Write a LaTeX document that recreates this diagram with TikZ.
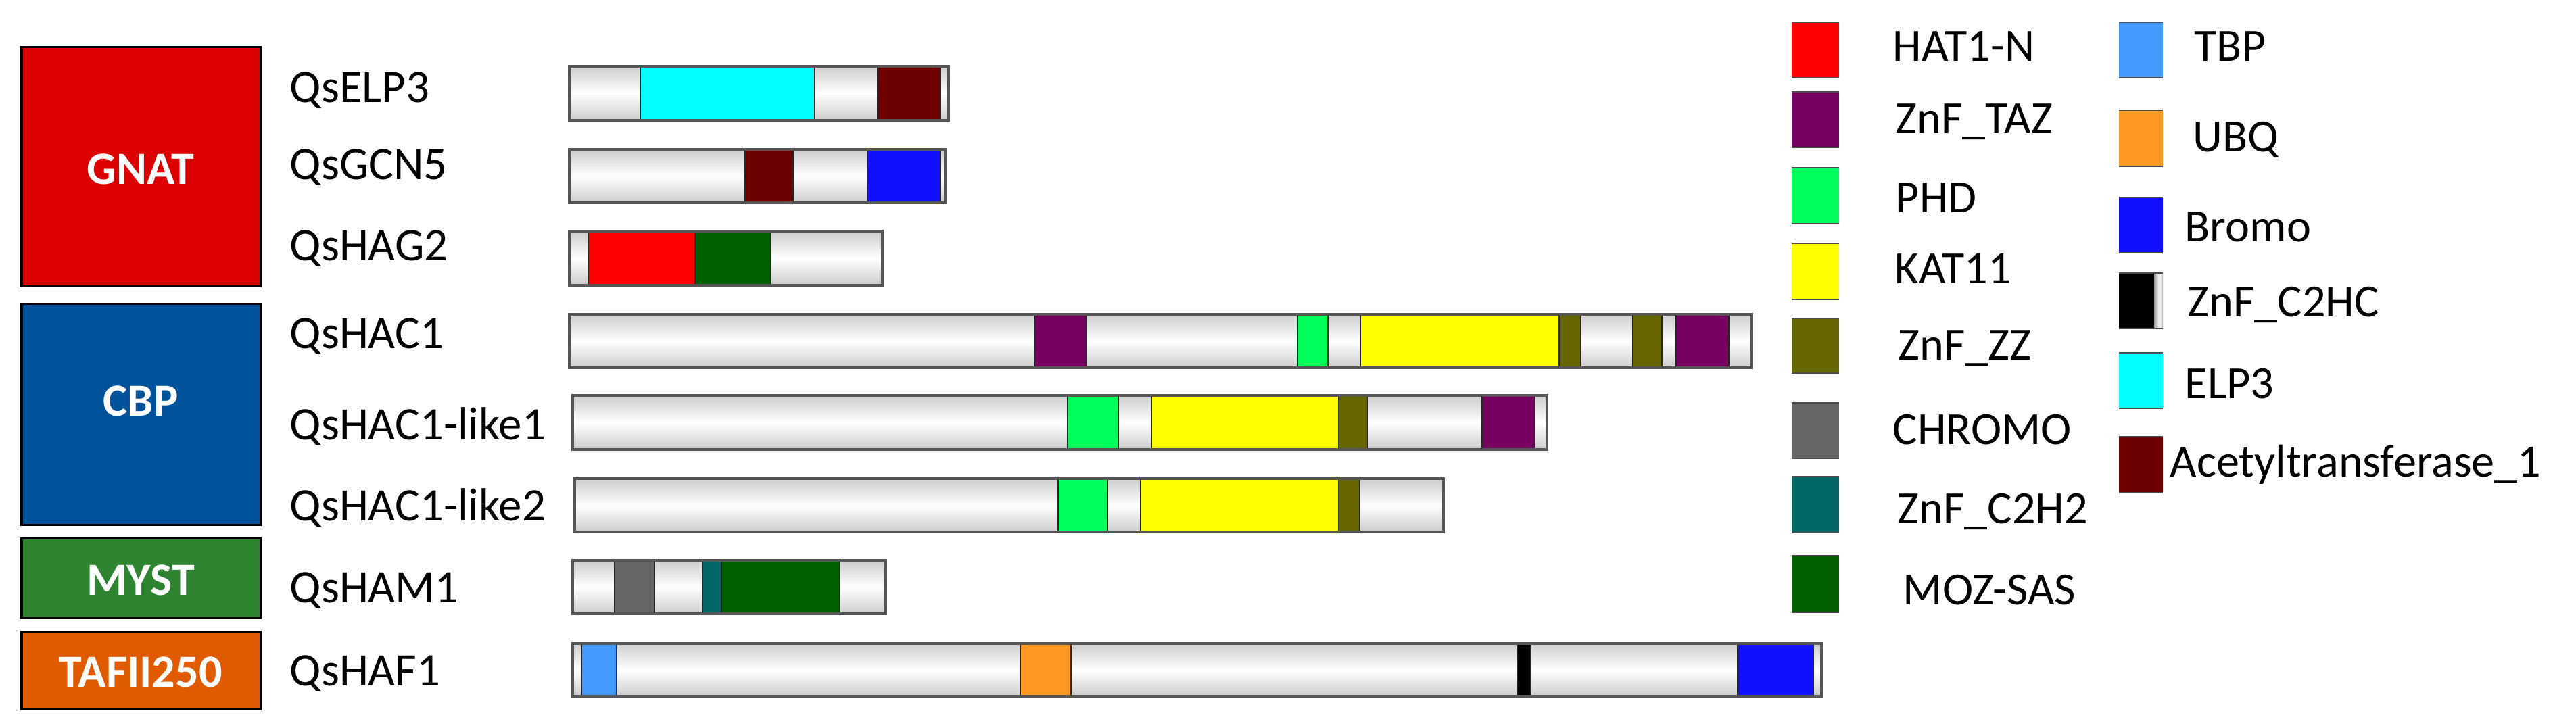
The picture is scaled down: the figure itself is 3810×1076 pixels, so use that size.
\documentclass[tikz,border=0pt]{standalone}
\usepackage{fontspec}
\setmainfont{Carlito}
\definecolor{cGNAT}{RGB}{221,0,0}
\definecolor{cCBP}{RGB}{0,82,155}
\definecolor{cMYST}{RGB}{46,131,48}
\definecolor{cTAF}{RGB}{224,90,0}
\definecolor{dHAT}{RGB}{255,0,0}
\definecolor{dTAZ}{RGB}{118,0,96}
\definecolor{dPHD}{RGB}{0,255,90}
\definecolor{dKAT}{RGB}{255,255,0}
\definecolor{dZZ}{RGB}{102,102,0}
\definecolor{dCHR}{RGB}{102,102,102}
\definecolor{dCtwoHtwo}{RGB}{0,102,102}
\definecolor{dMOZ}{RGB}{0,96,0}
\definecolor{dTBP}{RGB}{68,153,255}
\definecolor{dUBQ}{RGB}{255,153,34}
\definecolor{dBRO}{RGB}{16,16,255}
\definecolor{dCtwoHC}{RGB}{0,0,0}
\definecolor{dELP}{RGB}{0,255,255}
\definecolor{dACT}{RGB}{112,0,0}
\definecolor{barg}{RGB}{205,205,205}
\definecolor{barline}{RGB}{85,85,85}
\newcommand\protshade[4]{\shade[top color=barg,bottom color=barg,middle color=white] (#1,#2) rectangle (#3,#4);}
\newcommand\protframe[4]{\draw[barframe] (#1,#2) rectangle (#3,#4);}
\newcommand\protdom[5]{\filldraw[dom, fill=#5] (#1,#2) rectangle (#3,#4);}
\newcommand\legsq[5]{\fill[#5] (#1,#2) rectangle (#3,#4);
  \draw[legline] (#1,#2) -- (#3,#2); \draw[legline] (#1,#4) -- (#3,#4);}
\begin{document}
\begin{tikzpicture}[x=0.01cm,y=-0.01cm,
  grp/.style={draw=black, line width=0.03cm},
  grplabel/.style={text=white, font=\fontsize{19.4}{23}\selectfont\bfseries, inner sep=0, anchor=base},
  plabel/.style={font=\fontsize{19.6}{23}\selectfont, inner sep=0, anchor=base west},
  llabel/.style={font=\fontsize{19.4}{23}\selectfont, inner sep=0, anchor=base west},
  barframe/.style={draw=barline, line width=0.032cm},
  dom/.style={draw=black!85, line width=0.02cm},
  legline/.style={draw=black!70, line width=0.025cm},
  ]
\useasboundingbox[fill=white] (0,0) rectangle (3810,1076);

% group boxes
\draw[grp, fill=cGNAT] (32,70) rectangle (385,423);
\draw[grp, fill=cCBP] (32,449) rectangle (385,776);
\draw[grp, fill=cMYST] (32,796) rectangle (385,914);
\draw[grp, fill=cTAF] (32,934) rectangle (385,1049);
\node[grplabel] (gnat) at (208,272) {GNAT};
\node[grplabel] (cbp) at (208,615) {CBP};
\node[grplabel] (myst) at (208,880) {MYST};
\node[grplabel] (taf) at (208,1016) {TAFII250};

% protein labels
\node[plabel] (lelp) at (428,152) {QsELP3};
\node[plabel] (lgcn) at (428,265) {QsGCN5};
\node[plabel] (lhag) at (428,385) {QsHAG2};
\node[plabel] (lhac) at (428,515) {QsHAC1};
\node[plabel] (lhlo) at (428,650) {QsHAC1-like1};
\node[plabel] (lhlt) at (428,770) {QsHAC1-like2};
\node[plabel] (lham) at (428,891) {QsHAM1};
\node[plabel] (lhaf) at (428,1014) {QsHAF1};

% QsELP3
\protshade{842}{98}{1403}{178}
\protdom{947}{98}{1205}{178}{dELP}
\protdom{1298}{98}{1391}{178}{dACT}
\protframe{842}{98}{1403}{178}
% QsGCN5
\protshade{842}{221}{1398}{300}
\protdom{1102}{221}{1173}{300}{dACT}
\protdom{1283}{221}{1391}{300}{dBRO}
\protframe{842}{221}{1398}{300}
% QsHAG2
\protshade{842}{342}{1305}{422}
\protdom{870}{342}{1028}{422}{dHAT}
\protdom{1028}{342}{1140}{422}{dMOZ}
\protframe{842}{342}{1305}{422}
% QsHAC1
\protshade{842}{465}{2591}{544}
\protdom{1530}{465}{1607}{544}{dTAZ}
\protdom{1919}{465}{1964}{544}{dPHD}
\protdom{2012}{465}{2306}{544}{dKAT}
\protdom{2306}{465}{2338}{544}{dZZ}
\protdom{2415}{465}{2458}{544}{dZZ}
\protdom{2479}{465}{2557}{544}{dTAZ}
\protframe{842}{465}{2591}{544}
% QsHAC1-like1
\protshade{847}{585}{2288}{665}
\protdom{1579}{585}{1654}{665}{dPHD}
\protdom{1703}{585}{1980}{665}{dKAT}
\protdom{1980}{585}{2023}{665}{dZZ}
\protdom{2192}{585}{2270}{665}{dTAZ}
\protframe{847}{585}{2288}{665}
% QsHAC1-like2
\protshade{850}{708}{2135}{787}
\protdom{1565}{708}{1638}{787}{dPHD}
\protdom{1687}{708}{1980}{787}{dKAT}
\protdom{1980}{708}{2011}{787}{dZZ}
\protframe{850}{708}{2135}{787}
% QsHAM1
\protshade{847}{829}{1310}{908}
\protdom{909}{829}{968}{908}{dCHR}
\protdom{1039}{829}{1067}{908}{dCtwoHtwo}
\protdom{1067}{829}{1242}{908}{dMOZ}
\protframe{847}{829}{1310}{908}
% QsHAF1
\protshade{847}{952}{2694}{1030}
\protdom{860}{952}{912}{1030}{dTBP}
\protdom{1509}{952}{1584}{1030}{dUBQ}
\protdom{2244}{952}{2264}{1030}{dCtwoHC}
\protdom{2570}{952}{2682}{1030}{dBRO}
\protframe{847}{952}{2694}{1030}

% legend column 1
\legsq{2650}{33}{2720}{115}{dHAT}
\legsq{2650}{136}{2720}{218}{dTAZ}
\legsq{2650}{248}{2720}{331}{dPHD}
\legsq{2650}{360}{2720}{443}{dKAT}
\legsq{2650}{471}{2720}{552}{dZZ}
\legsq{2650}{596}{2720}{678}{dCHR}
\legsq{2650}{705}{2720}{788}{dCtwoHtwo}
\legsq{2650}{822}{2720}{906}{dMOZ}
\node[llabel] (that) at (2799,91) {HAT1-N};
\node[llabel] (ttaz) at (2803,198) {ZnF\_TAZ};
\node[llabel] (tphd) at (2803,314) {PHD};
\node[llabel] (tkat) at (2802,419) {KAT11};
\node[llabel] (tzz) at (2807,532) {ZnF\_ZZ};
\node[llabel] (tchr) at (2799,657) {CHROMO};
\node[llabel] (tcth) at (2806,774) {ZnF\_C2H2};
\node[llabel] (tmoz) at (2814,894) {MOZ-SAS};

% legend column 2
\legsq{3134}{33}{3199}{115}{dTBP}
\legsq{3134}{163}{3199}{246}{dUBQ}
\legsq{3134}{292}{3199}{374}{dBRO}
\fill[black] (3134,404) rectangle (3186,486);
\shade[left color=black!40, right color=white] (3186,404) rectangle (3194,486);
\shade[left color=white, right color=black!30] (3194,404) rectangle (3199,486);
\draw[legline] (3134,404) -- (3199,404); \draw[legline] (3134,486) -- (3199,486);
\legsq{3134}{522}{3199}{604}{dELP}
\legsq{3134}{646}{3199}{729}{dACT}
\node[llabel] (ttbp) at (3245,91) {TBP};
\node[llabel] (tubq) at (3243,225) {UBQ};
\node[llabel] (tbro) at (3231,357) {Bromo};
\node[llabel] (tcthc) at (3235,468) {ZnF\_C2HC};
\node[llabel] (telp) at (3231,589) {ELP3};
\node[llabel] (tact) at (3209,705) {Acetyltransferase\_1};
\end{tikzpicture}
\end{document}
